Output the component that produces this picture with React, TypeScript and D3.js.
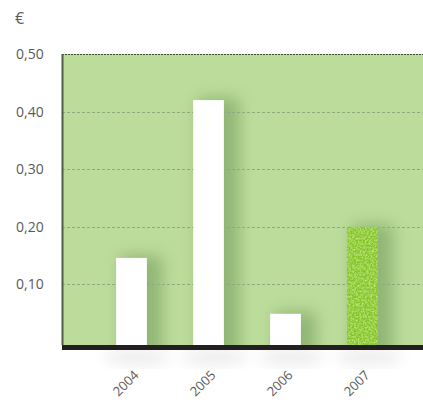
import { useEffect, useRef } from "react";
import * as d3 from "d3";

const years = ["2004", "2005", "2006", "2007"];
const values = [0.146, 0.42, 0.049, 0.2];
const highlight = ["2007"];
const yTicks = [0.1, 0.2, 0.3, 0.4, 0.5];

export default function App() {
  const ref = useRef<SVGSVGElement | null>(null);

  useEffect(() => {
    const svgEl = ref.current;
    if (!svgEl) return;

    const width = 423;
    const height = 406;
    const plot = { left: 62, right: 423, top: 54, bottom: 342 };
    const baseY = 345; // top of the black base line
    const font = "'Open Sans', 'Liberation Sans', Arial, sans-serif";

    const svg = d3.select(svgEl);
    svg.selectAll("*").remove();
    svg.attr("width", width).attr("height", height);

    const defs = svg.append("defs");
    defs
      .append("filter")
      .attr("id", "soft")
      .attr("x", "-100%")
      .attr("y", "-50%")
      .attr("width", "300%")
      .attr("height", "200%")
      .append("feGaussianBlur")
      .attr("stdDeviation", 8);
    defs
      .append("clipPath")
      .attr("id", "plotclip")
      .append("rect")
      .attr("x", plot.left)
      .attr("y", plot.top)
      .attr("width", plot.right - plot.left)
      .attr("height", baseY - plot.top);

    // grainy texture for the highlighted bar
    const tex = defs
      .append("filter")
      .attr("id", "grain")
      .attr("x", 0)
      .attr("y", 0)
      .attr("width", "100%")
      .attr("height", "100%");
    tex
      .append("feTurbulence")
      .attr("type", "fractalNoise")
      .attr("baseFrequency", 0.55)
      .attr("numOctaves", 2)
      .attr("seed", 3)
      .attr("result", "noise");
    tex
      .append("feColorMatrix")
      .attr("in", "noise")
      .attr("type", "matrix")
      .attr("values", "0 0 0 0 0.66  0 0 0 0 0.88  0 0 0 0 0.25  0 0 0 1.6 -0.6")
      .attr("result", "spots");
    tex.append("feComposite").attr("in", "spots").attr("in2", "SourceGraphic").attr("operator", "atop");

    const x = d3
      .scaleBand<string>()
      .domain(years)
      .range([93, 401])
      .paddingInner(0.6)
      .paddingOuter(0.3);
    const y = d3.scaleLinear().domain([0, 0.5]).range([plot.bottom, plot.top]);

    // background
    svg
      .append("rect")
      .attr("x", plot.left)
      .attr("y", plot.top)
      .attr("width", plot.right - plot.left)
      .attr("height", baseY - plot.top)
      .attr("fill", "#bcdc9b");

    // bar shadows
    const sh = svg.append("g").attr("clip-path", "url(#plotclip)");
    sh.selectAll("rect")
      .data(years)
      .enter()
      .append("rect")
      .attr("x", (d) => x(d)! + 5)
      .attr("y", (d, i) => y(values[i]) - 2)
      .attr("width", x.bandwidth() + 10)
      .attr("height", (d, i) => baseY - y(values[i]) + 20)
      .attr("fill", "#55803f")
      .attr("opacity", 0.42)
      .attr("filter", "url(#soft)");

    // shadows under the base line
    svg
      .append("g")
      .selectAll("ellipse")
      .data(years)
      .enter()
      .append("ellipse")
      .attr("cx", (d) => x(d)! + x.bandwidth() / 2 + 6)
      .attr("cy", 357)
      .attr("rx", 34)
      .attr("ry", 6)
      .attr("fill", "#000")
      .attr("opacity", 0.1)
      .attr("filter", "url(#soft)");

    // grid
    svg
      .append("g")
      .selectAll("line")
      .data(yTicks)
      .enter()
      .append("line")
      .attr("x1", plot.left)
      .attr("x2", plot.right)
      .attr("y1", (d) => Math.round(y(d)) + 0.5)
      .attr("y2", (d) => Math.round(y(d)) + 0.5)
      .attr("stroke", (d) => (d === 0.5 ? "#3e4a36" : "#8fab7c"))
      .attr("stroke-width", 1)
      .attr("stroke-dasharray", (d) => (d === 0.5 ? "2,1" : "3,2"));

    // bars
    svg
      .append("g")
      .selectAll("rect")
      .data(years)
      .enter()
      .append("rect")
      .attr("x", (d) => x(d)!)
      .attr("y", (d, i) => y(values[i]))
      .attr("width", x.bandwidth())
      .attr("height", (d, i) => baseY - y(values[i]))
      .attr("fill", (d) => (highlight.includes(d) ? "#84c62a" : "#ffffff"))
      .attr("filter", (d) => (highlight.includes(d) ? "url(#grain)" : null));

    // left axis line
    svg
      .append("line")
      .attr("x1", plot.left + 0.5)
      .attr("x2", plot.left + 0.5)
      .attr("y1", plot.top)
      .attr("y2", baseY)
      .attr("stroke", "#4d5c44")
      .attr("stroke-width", 2);

    // base line
    svg
      .append("rect")
      .attr("x", plot.left)
      .attr("y", baseY)
      .attr("width", plot.right - plot.left)
      .attr("height", 5)
      .attr("fill", "#231f20");

    // y labels
    const fmt = (v: number) => v.toFixed(2).replace(".", ",");
    svg
      .append("g")
      .selectAll("text")
      .data(yTicks)
      .enter()
      .append("text")
      .attr("x", 16)
      .attr("y", (d) => y(d))
      .attr("dy", "0.35em")
      .attr("font-family", font)
      .attr("font-size", 14)
      .attr("fill", "#5a5a5a")
      .text(fmt);

    svg
      .append("text")
      .attr("x", 15)
      .attr("y", 24)
      .attr("font-family", font)
      .attr("font-size", 16)
      .attr("fill", "#5a5a5a")
      .text("€");

    // x labels
    svg
      .append("g")
      .selectAll("text")
      .data(years)
      .enter()
      .append("text")
      .attr(
        "transform",
        (d) => `translate(${x(d)! + x.bandwidth() / 2 + 8},${376}) rotate(-45)`
      )
      .attr("text-anchor", "end")
      .attr("font-family", font)
      .attr("font-size", 13)
      .attr("fill", "#5a5a5a")
      .text((d) => d);
  }, []);

  return (
    <div style={{ position: "absolute", left: 0, top: 0 }}>
      <svg ref={ref} style={{ display: "block" }} />
    </div>
  );
}
